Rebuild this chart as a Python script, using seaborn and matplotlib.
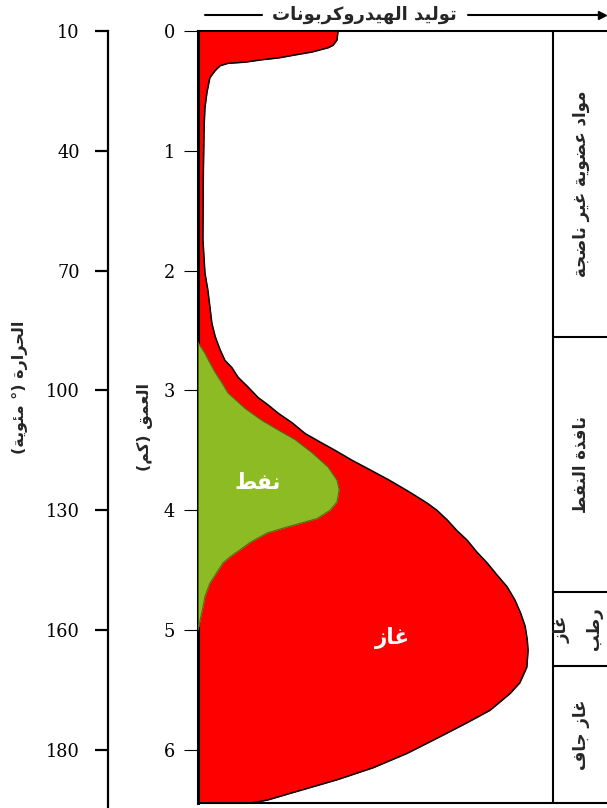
import matplotlib
matplotlib.use("Agg")
import matplotlib.pyplot as plt
from matplotlib.lines import Line2D
import seaborn as sns

# ---- data -------------------------------------------------------------
depth_ticks = [0, 1, 2, 3, 4, 5, 6]
temp_labels = [10, 40, 70, 100, 130, 160, 180]

# outer edge of total hydrocarbon generation (gas), depth in km
gas_depth = [0.00, 0.01, 0.075, 0.12, 0.14, 0.175, 0.20, 0.225, 0.24, 0.26,
             0.27, 0.29, 0.33, 0.39, 0.51, 0.64, 0.79, 1.20, 1.74, 2.02,
             2.16, 2.30, 2.44, 2.55, 2.66, 2.75, 2.81, 2.89, 2.97, 3.06,
             3.12, 3.19, 3.27, 3.36, 3.43, 3.50, 3.58, 3.64, 3.68, 3.75,
             3.85, 3.94, 4.00, 4.08, 4.17, 4.25, 4.35, 4.44, 4.54, 4.64,
             4.75, 4.86, 4.97, 5.08, 5.17, 5.31, 5.44, 5.53, 5.67, 5.77,
             5.89, 6.03, 6.15, 6.25, 6.34, 6.42, 6.444]
gas_yield = [34.2, 34.2, 34.0, 33.0, 31.8, 27.9, 23.7, 19.6, 15.6, 11.5,
             7.3, 5.4, 4.2, 2.9, 2.2, 1.7, 1.5, 1.3, 1.2, 1.7,
             2.4, 2.9, 3.4, 4.2, 5.4, 6.6, 8.3, 9.8, 12.2, 14.7,
             17.1, 19.6, 23.0, 26.2, 29.8, 33.5, 37.5, 40.8, 43.0, 46.8,
             51.8, 56.0, 58.4, 60.9, 63.3, 65.8, 68.2, 70.7, 73.1, 75.6,
             77.5, 78.9, 80.0, 80.5, 80.7, 80.4, 78.7, 76.3, 71.4, 66.0,
             59.2, 51.1, 42.8, 34.0, 24.9, 16.9, 13.0]

# oil generation envelope
oil_depth = [2.60, 2.69, 2.77, 2.85, 2.94, 3.02, 3.15, 3.25, 3.33, 3.41,
             3.52, 3.64, 3.75, 3.83, 3.93, 4.00, 4.07, 4.11, 4.15, 4.19,
             4.27, 4.33, 4.39, 4.44, 4.52, 4.61, 4.72, 4.81, 4.92, 5.00]
oil_yield = [0.0, 1.7, 2.9, 4.2, 5.9, 7.3, 11.5, 15.6, 19.6, 23.7,
             27.9, 31.8, 34.0, 34.5, 34.0, 32.3, 29.1, 24.9, 20.8, 16.9,
             12.7, 10.3, 7.8, 6.1, 4.6, 2.9, 1.7, 1.2, 0.5, 0.0]

zone_bounds = [0.0, 2.554, 4.683, 5.30, 6.444]
zone_labels = ["مواد عضوية غير ناضجة", "نافذة النفط", None, "غاز جاف"]
wet_gas_lines = ["غاز", "رطب"]

title_text = "توليد الهيدروكربونات"
depth_title = "العمق (كم)"
temp_title = "الحرارة (° مئوية)"
oil_label = "نفط"
gas_label = "غاز"

# ---- Arabic contextual shaping for the renderer -----------------------
_FORMS = {
    'ا': (0xFE8D, 2), 'ب': (0xFE8F, 4), 'ة': (0xFE93, 2), 'ت': (0xFE95, 4),
    'ج': (0xFE9D, 4), 'ح': (0xFEA1, 4), 'د': (0xFEA9, 2), 'ذ': (0xFEAB, 2),
    'ر': (0xFEAD, 2), 'ز': (0xFEAF, 2), 'ض': (0xFEBD, 4), 'ط': (0xFEC1, 4),
    'ع': (0xFEC9, 4), 'غ': (0xFECD, 4), 'ف': (0xFED1, 4), 'ق': (0xFED5, 4),
    'ك': (0xFED9, 4), 'ل': (0xFEDD, 4), 'م': (0xFEE1, 4), 'ن': (0xFEE5, 4),
    'ه': (0xFEE9, 4), 'و': (0xFEED, 2), 'ي': (0xFEF1, 4), 'ئ': (0xFE89, 4),
}


def shape(text):
    out = []
    for i, ch in enumerate(text):
        if ch not in _FORMS:
            out.append(ch)
            continue
        base, n = _FORMS[ch]
        prev = text[i - 1] if i > 0 else ''
        nxt = text[i + 1] if i + 1 < len(text) else ''
        jp = prev in _FORMS and _FORMS[prev][1] == 4
        jn = n == 4 and nxt in _FORMS
        if jp and jn:
            code = base + 3
        elif jp:
            code = base + 1
        elif jn:
            code = base + 2
        else:
            code = base
        out.append(chr(code))
    mirror = {'(': ')', ')': '('}
    return ''.join(mirror.get(c, c) for c in reversed(out))


# ---- style ------------------------------------------------------------
sns.set_theme(style="ticks", rc={"axes.edgecolor": "black",
                                 "xtick.color": "black", "ytick.color": "black"})
plt.rcParams["font.family"] = ["DejaVu Sans"]

W, H = 607, 808
fig = plt.figure(figsize=(W / 100, H / 100), dpi=100)

RED = "#ff0000"
GREEN = "#8dbb23"

# main panel: depth axis on the left edge
top_px, bot_px, left_px = 31, 803, 198
ax = fig.add_axes([left_px / W, 1 - bot_px / H, 1 - left_px / W, (bot_px - top_px) / H])
ax.set_xlim(0, 100)
ax.set_ylim(zone_bounds[-1], 0)

ax.fill_betweenx(gas_depth, 0, gas_yield, color=RED, lw=0, zorder=2)
sns.lineplot(x=gas_yield, y=gas_depth, sort=False, estimator=None,
             errorbar=None, color="black", lw=1.1, ax=ax, zorder=3)
ax.fill_betweenx(oil_depth, 0, oil_yield, color=GREEN, lw=0, zorder=4)
sns.lineplot(x=oil_yield, y=oil_depth, sort=False, estimator=None,
             errorbar=None, color="#4f6e14", lw=0.8, ax=ax, zorder=5)

ax.text(14.7, 3.77, shape(oil_label), color="white", fontsize=15.5,
        fontweight="bold", ha="center", va="center", zorder=6)
ax.text(47.5, 5.07, shape(gas_label), color="white", fontsize=15.5,
        fontweight="bold", ha="center", va="center", zorder=6)

# maturity zone column on the right
col_x = 86.8
ax.axvline(col_x, color="black", lw=1.5, zorder=6)
ax.hlines(zone_bounds[1:-1], col_x, 100, color="black", lw=1.5, zorder=6)
for lo, hi, lab in zip(zone_bounds[:-1], zone_bounds[1:], zone_labels):
    if lab is None:
        continue
    ax.text(93.6, (lo + hi) / 2, shape(lab), rotation=90, fontsize=12,
            fontweight="bold", ha="center", va="center", zorder=7)
wet_mid = (zone_bounds[2] + zone_bounds[3]) / 2
ax.text(88.9, wet_mid, shape(wet_gas_lines[0]), rotation=90, fontsize=12,
        fontweight="bold", ha="center", va="center", zorder=7)
ax.text(96.9, wet_mid, shape(wet_gas_lines[1]), rotation=90, fontsize=12,
        fontweight="bold", ha="center", va="center", zorder=7)

ax.spines["right"].set_visible(False)
ax.spines["left"].set_linewidth(2.2)
ax.spines["top"].set_linewidth(1.5)
ax.spines["bottom"].set_linewidth(1.5)
ax.set_xticks([])
ax.set_yticks(depth_ticks)
ax.set_yticklabels([str(t) for t in depth_ticks], fontfamily="DejaVu Serif",
                   fontsize=12.8)
ax.tick_params(axis="y", direction="out", length=10, width=0.8, pad=6.5)
ax.set_xlabel("")
ax.set_ylabel("")

# temperature scale
tax = fig.add_axes([108 / W, 0, 0.01, (H - top_px) / H])
tax.set_ylim((H - top_px) / 119.8, 0)
tax.set_xlim(0, 1)
for side in ("right", "top", "bottom"):
    tax.spines[side].set_visible(False)
tax.spines["left"].set_linewidth(1.6)
tax.patch.set_alpha(0)
tax.set_xticks([])
tax.set_yticks(depth_ticks)
tax.set_yticklabels([str(t) for t in temp_labels], fontfamily="DejaVu Serif",
                    fontsize=12.8)
tax.tick_params(axis="y", direction="out", length=9.5, width=1.6, pad=11)

# axis titles
fig.text(145 / W, 1 - 427 / H, shape(depth_title), rotation=90, fontsize=11.5,
         fontweight="bold", ha="center", va="center")
fig.text(20 / W, 1 - 387 / H, shape(temp_title), rotation=90, fontsize=11.5,
         fontweight="bold", ha="center", va="center")

# header with arrow
fig.text(364 / W, 1 - 15 / H, shape(title_text), fontsize=13, fontweight="bold",
         ha="center", va="center")
fig.add_artist(Line2D([205 / W, 262 / W], [1 - 15 / H, 1 - 15 / H],
                      color="black", lw=1.5))
fig.add_artist(Line2D([468 / W, 600 / W], [1 - 15 / H, 1 - 15 / H],
                      color="black", lw=1.5))
fig.add_artist(Line2D([602 / W], [1 - 15 / H], marker=">", markersize=6,
                      color="black", lw=0))

fig.savefig("out.png", dpi=100)
